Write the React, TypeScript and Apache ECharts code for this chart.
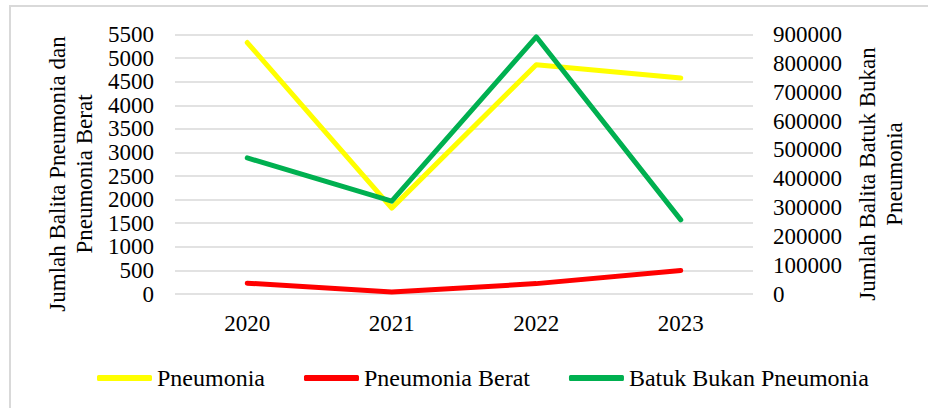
import React, { useEffect, useRef } from "react";
import * as echarts from "echarts";

const categories = ["2020", "2021", "2022", "2023"];
const pneumonia = [5330, 1820, 4860, 4580];
const pneumoniaBerat = [230, 40, 220, 500];
const batukBukanPneumonia = [472000, 322000, 892000, 257000];
const leftTitle = "Jumlah Balita Pneumonia dan\nPneumonia Berat";
const rightTitle = "Jumlah Balita Batuk Bukan\nPneumonia";

const FONT = "'Liberation Serif', 'Times New Roman', serif";

export default function App() {
  const ref = useRef<HTMLDivElement>(null);
  useEffect(() => {
    if (!ref.current) return;
    const chart = echarts.init(ref.current, undefined, { renderer: "svg" });
    chart.setOption({
      animation: false,
      backgroundColor: "#ffffff",
      textStyle: { fontFamily: FONT },
      grid: { left: 175, right: 175, top: 34.5, bottom: 114, containLabel: false },
      graphic: [
        {
          type: "rect",
          shape: { x: 10, y: 6, width: 940, height: 420 },
          style: { fill: "none", stroke: "#d9d9d9", lineWidth: 2 },
          silent: true,
        },
        {
          type: "text",
          x: 71,
          y: 174,
          rotation: Math.PI / 2,
          style: {
            text: leftTitle,
            fontFamily: FONT,
            fontSize: 23,
            lineHeight: 27,
            fill: "#000",
            align: "center",
            verticalAlign: "middle",
          },
        },
        {
          type: "text",
          x: 881,
          y: 174,
          rotation: Math.PI / 2,
          style: {
            text: rightTitle,
            fontFamily: FONT,
            fontSize: 23,
            lineHeight: 27,
            fill: "#000",
            align: "center",
            verticalAlign: "middle",
          },
        },
      ],
      legend: {
        left: 92,
        top: 361,
        itemWidth: 55,
        itemHeight: 6,
        itemGap: 39,
        icon: "roundRect",
        textStyle: { fontFamily: FONT, fontSize: 24, color: "#000" },
        data: ["Pneumonia", "Pneumonia Berat", "Batuk Bukan Pneumonia"],
      },
      xAxis: {
        type: "category",
        data: categories,
        boundaryGap: true,
        axisLine: { show: false },
        axisTick: { show: false },
        axisLabel: { fontFamily: FONT, fontSize: 23, color: "#000", margin: 18 },
      },
      yAxis: [
        {
          type: "value",
          min: 0,
          max: 5500,
          interval: 500,
          position: "left",
          axisLine: { show: false },
          axisTick: { show: false },
          axisLabel: {
            fontFamily: FONT,
            fontSize: 23,
            color: "#000",
            margin: 21,
            formatter: (v: number) => String(v),
          },
          splitLine: { show: true, lineStyle: { color: "#d9d9d9", width: 1.5 } },
        },
        {
          type: "value",
          min: 0,
          max: 900000,
          interval: 100000,
          position: "right",
          axisLine: { show: false },
          axisTick: { show: false },
          axisLabel: {
            fontFamily: FONT,
            fontSize: 23,
            color: "#000",
            margin: 20,
            formatter: (v: number) => String(v),
          },
          splitLine: { show: false },
        },
      ],
      series: [
        {
          name: "Pneumonia",
          type: "line",
          data: pneumonia,
          yAxisIndex: 0,
          showSymbol: false,
          color: "#FFFF00",
          lineStyle: { color: "#FFFF00", width: 5, cap: "round", join: "round" },
        },
        {
          name: "Pneumonia Berat",
          type: "line",
          data: pneumoniaBerat,
          yAxisIndex: 0,
          showSymbol: false,
          color: "#FF0000",
          lineStyle: { color: "#FF0000", width: 5, cap: "round", join: "round" },
        },
        {
          name: "Batuk Bukan Pneumonia",
          type: "line",
          data: batukBukanPneumonia,
          yAxisIndex: 1,
          showSymbol: false,
          color: "#00B050",
          lineStyle: { color: "#00B050", width: 5, cap: "round", join: "round" },
        },
      ],
    });
    return () => chart.dispose();
  }, []);
  return (
    <div
      ref={ref}
      style={{ position: "fixed", left: 0, top: 0, width: 928, height: 408 }}
    />
  );
}
